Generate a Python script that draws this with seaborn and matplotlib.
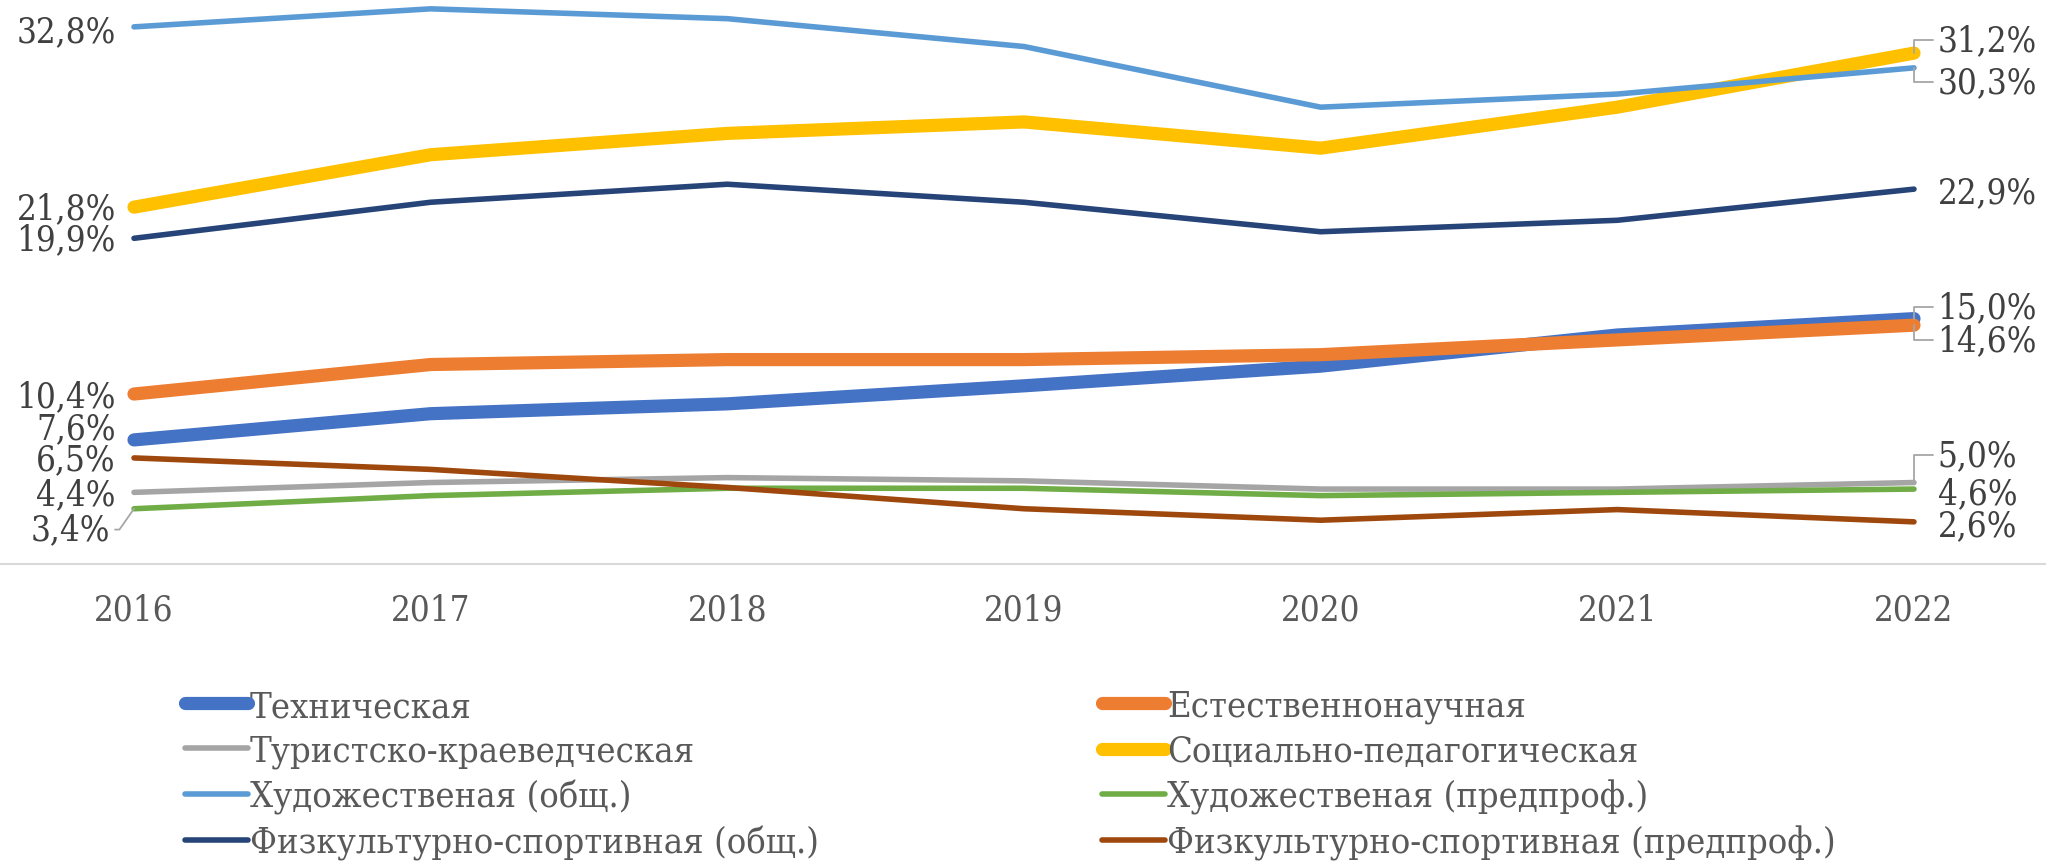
import matplotlib
matplotlib.use("Agg")
import matplotlib.pyplot as plt
from matplotlib.lines import Line2D
import seaborn as sns
import pandas as pd

years = [2016, 2017, 2018, 2019, 2020, 2021, 2022]

tech = [7.6, 9.2, 9.8, 10.9, 12.1, 14.0, 15.0]
nature = [10.4, 12.2, 12.5, 12.5, 12.8, 13.7, 14.6]
tourism = [4.4, 5.0, 5.3, 5.1, 4.6, 4.6, 5.0]
social = [21.8, 25.0, 26.3, 27.0, 25.4, 27.9, 31.2]
art_gen = [32.8, 33.9, 33.3, 31.6, 27.9, 28.7, 30.3]
art_pre = [3.4, 4.2, 4.65, 4.65, 4.2, 4.4, 4.6]
sport_gen = [19.9, 22.1, 23.2, 22.1, 20.3, 21.0, 22.9]
sport_pre = [6.5, 5.8, 4.7, 3.4, 2.7, 3.35, 2.6]

names = ["Техническая", "Естественнонаучная", "Туристско-краеведческая",
         "Социально-педагогическая", "Художественая (общ.)", "Художественая (предпроф.)",
         "Физкультурно-спортивная (общ.)", "Физкультурно-спортивная (предпроф.)"]
series = [tech, nature, tourism, social, art_gen, art_pre, sport_gen, sport_pre]
colors = ["#4472C4", "#ED7D31", "#A5A5A5", "#FFC000", "#5B9BD5", "#70AD47", "#264478", "#9E480E"]
widths = [9.5, 9.5, 4.0, 9.5, 4.0, 4.0, 4.0, 4.0]

# label offsets in points (dy) for first / last values, and leader-line flags
left_dy = [8.5, -1.5, -1.5, -0.7, -3, -15, -0.7, -0.7]
right_dy = [8.5, -10.8, 19.5, 9.4, -10, -3.0, -2.2, -2.5]
right_leader = [True, True, True, True, True, False, False, False]

sns.set_style("white")
plt.rcParams["font.family"] = ["DejaVu Serif", "DejaVu Sans"]
plt.rcParams["font.stretch"] = "condensed"

df = pd.DataFrame({"year": years})
for n, s in zip(names, series):
    df[n] = s

fig = plt.figure(figsize=(20.46, 8.62), dpi=100)
ax = fig.add_axes([0, 0.344, 1, 0.656])

for n, c, w in zip(names, colors, widths):
    sns.lineplot(data=df, x="year", y=n, ax=ax, color=c, linewidth=w,
                 solid_capstyle="round", legend=False)

txt_col = "#404040"
lab_fs = 25
leader = dict(arrowstyle="-", color="#A6A6A6", lw=1.3, shrinkA=1, shrinkB=0)
for i, s in enumerate(series):
    lab0 = f"{s[0]:.1f}%".replace(".", ",")
    lab1 = f"{s[-1]:.1f}%".replace(".", ",")
    if names[i] == "Художественая (предпроф.)":
        ax.annotate(lab0, xy=(years[0], s[0]), xytext=(-17, left_dy[i]),
                    textcoords="offset points", ha="right", va="center",
                    fontsize=lab_fs, color=txt_col,
                    arrowprops=dict(leader, connectionstyle="angle,angleA=0,angleB=55"))
    else:
        ax.annotate(lab0, xy=(years[0], s[0]), xytext=(-13, left_dy[i]),
                    textcoords="offset points", ha="right", va="center",
                    fontsize=lab_fs, color=txt_col)
    if right_leader[i]:
        ax.annotate(lab1, xy=(years[-1], s[-1]), xytext=(17, right_dy[i]),
                    textcoords="offset points", ha="left", va="center",
                    fontsize=lab_fs, color=txt_col,
                    arrowprops=dict(leader, connectionstyle="angle,angleA=0,angleB=90"))
    else:
        ax.annotate(lab1, xy=(years[-1], s[-1]), xytext=(17, right_dy[i]),
                    textcoords="offset points", ha="left", va="center",
                    fontsize=lab_fs, color=txt_col)

ax.set_xlim(years[0] - 0.4517, years[0] + 6.445)
ax.set_ylim(0, 34.5)
ax.set_xticks(years)
ax.set_xticklabels([str(y) for y in years], fontsize=25, color="#595959")
ax.tick_params(axis="x", length=0, pad=20)
ax.set_yticks([])
ax.set_xlabel("")
ax.set_ylabel("")
for sp in ["top", "left", "right"]:
    ax.spines[sp].set_visible(False)
ax.spines["bottom"].set_color("#D9D9D9")
ax.spines["bottom"].set_linewidth(1.5)

handles = [Line2D([0], [0], color=c, lw=w, solid_capstyle="round") for c, w in zip(colors, widths)]
leg_kw = dict(frameon=False, fontsize=26, handlelength=1.75, handletextpad=0.05,
              labelspacing=0.3, borderpad=0, borderaxespad=0, labelcolor="#595959",
              loc="upper left")
leg1 = fig.legend(handles[0::2], names[0::2], bbox_to_anchor=(185 / 2046, 1 - 690 / 862), **leg_kw)
leg2 = fig.legend(handles[1::2], names[1::2], bbox_to_anchor=(1102 / 2046, 1 - 690 / 862), **leg_kw)

fig.savefig("out.png", dpi=100)
